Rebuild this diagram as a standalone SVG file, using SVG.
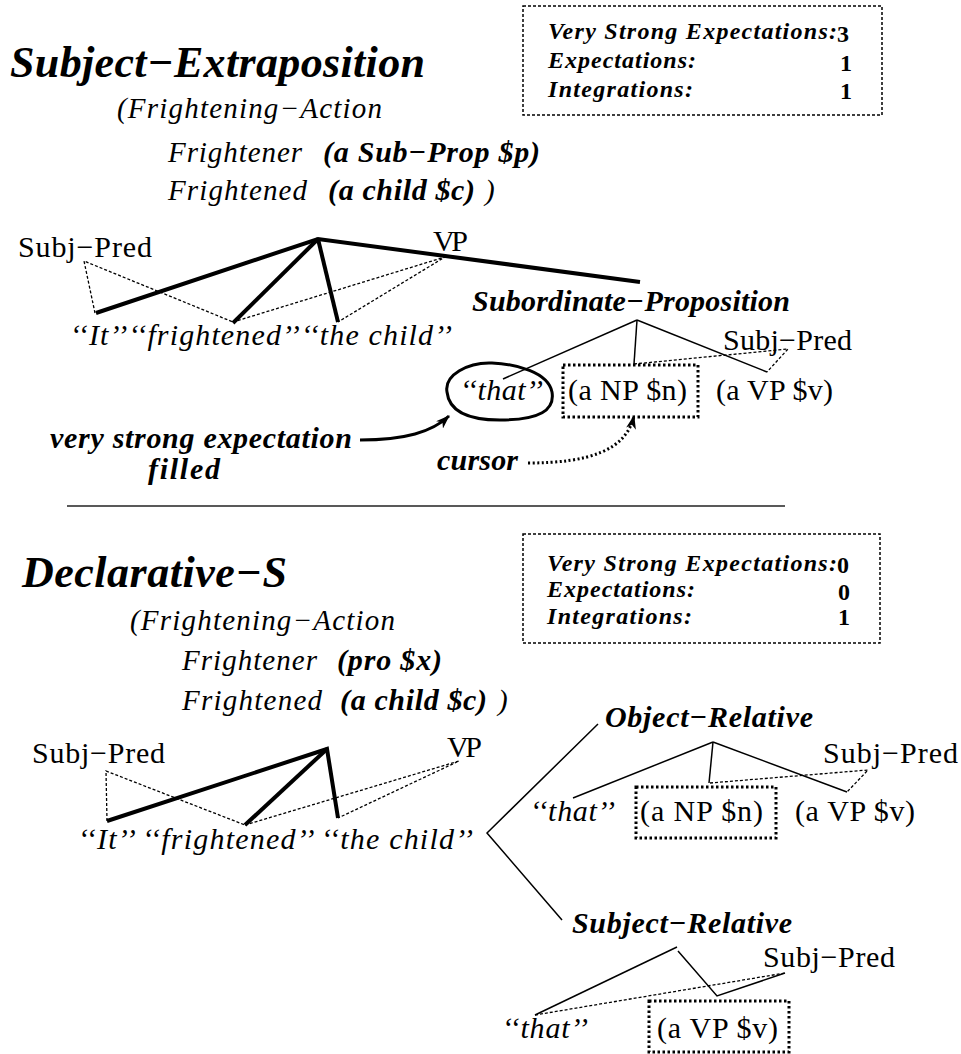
<svg xmlns="http://www.w3.org/2000/svg" width="961" height="1054" viewBox="0 0 961 1054">
<style>
text{font-family:'Liberation Serif','Times New Roman',serif;fill:#000}
.bi{font-style:italic;font-weight:bold}
.it{font-style:italic}
.rm{font-style:normal}
.b{font-weight:bold;font-style:normal}
.t1{font-size:44px}
.f{font-size:29px}
.n{font-size:30px}
.s{font-size:24px}
line,polyline,path,rect{fill:none;stroke:#000}
.thick{stroke-width:4}
.thin{stroke-width:1.5}
.dot{stroke-width:1.3;stroke-dasharray:3 2}
.dbox{stroke-width:3;stroke-dasharray:2.5 2.5}
.frame{stroke-width:1.5;stroke-dasharray:3 2}
</style>
<defs>
<marker id="ah" markerUnits="userSpaceOnUse" markerWidth="14" markerHeight="10" refX="13" refY="5" orient="auto">
<path d="M0,0 L14,5 L0,10 L4,5 Z" style="fill:#000;stroke:none"/>
</marker>
</defs>

<g id="top-title"><text class="bi t1" x="10" y="77" textLength="415">Subject−Extraposition</text></g>
<g id="top-frame">
<text class="it f" x="117" y="118" textLength="265">(Frightening−Action</text>
<text class="it f" x="168" y="162" textLength="134">Frightener</text>
<text class="bi n" x="323" y="162" textLength="217">(a Sub−Prop $p)</text>
<text class="it f" x="168" y="200" textLength="139">Frightened</text>
<text class="bi n" x="328" y="200" textLength="147">(a child $c)</text>
<text class="it f" x="485" y="200">)</text>
</g>
<g id="top-counts">
<rect class="frame" x="523" y="6" width="359" height="109"/>
<text class="bi s" x="548" y="39" textLength="289">Very Strong Expectations:</text>
<text class="b s" x="837" y="42">3</text>
<text class="bi s" x="548" y="68" textLength="148">Expectations:</text>
<text class="b s" x="840" y="71">1</text>
<text class="bi s" x="548" y="97" textLength="145">Integrations:</text>
<text class="b s" x="840" y="99">1</text>
</g>

<g id="top-tree-labels">
<text class="rm n" x="18" y="257" textLength="134">Subj−Pred</text>
<text class="rm n" x="433" y="251" textLength="35">VP</text>
<text class="it n" x="70" y="345" textLength="382">‘‘It’’‘‘frightened’’‘‘the child’’</text>
</g>
<g id="subordinate-proposition">
<text class="bi n" x="472" y="311" textLength="318">Subordinate−Proposition</text>
<text class="rm n" x="723" y="350" textLength="129">Subj−Pred</text>
<text class="it n" x="460" y="400" textLength="83">‘‘that’’</text>
<path d="M447,392 C444,375 468,362 492,363 C516,364 548,372 552,392 C555,410 540,420 500,420 C468,420 449,411 447,392 Z" style="stroke-width:3"/>
<rect class="dbox" x="563" y="365" width="135" height="52"/>
<text class="rm n" x="568" y="400" textLength="119">(a NP $n)</text>
<text class="rm n" x="716" y="400" textLength="117">(a VP $v)</text>
</g>
<g id="annotations-top">
<text class="bi n" x="50" y="448" textLength="302">very strong expectation</text>
<text class="bi n" x="148" y="479" textLength="72">filled</text>
<text class="bi n" x="437" y="470" textLength="81">cursor</text>
</g>

<g id="connectors">
<polyline class="thick" points="96,313 318,239 640,282"/>
<line class="thick" x1="318" y1="239" x2="233" y2="323"/>
<line class="thick" x1="318" y1="239" x2="338" y2="322"/>
<polyline class="dot" points="95,313 84,261 233,322"/>
<polyline class="dot" points="233,322 445,257 338,322"/>
<line class="thin" x1="637" y1="320" x2="503" y2="379"/>
<line class="thin" x1="637" y1="320" x2="634" y2="364"/>
<line class="thin" x1="637" y1="320" x2="767" y2="372"/>
<polyline class="dot" points="634,364 788,349 767,372"/>
<path d="M360,440 C405,440 432,432 449,416" style="stroke-width:3" marker-end="url(#ah)"/>
<path d="M528,463 C590,463 626,450 634,416" style="stroke-width:3;stroke-dasharray:2 2.5" marker-end="url(#ah)"/>
<line x1="67" y1="506" x2="785" y2="506" style="stroke-width:1.5;stroke:#222"/>
<polyline class="thick" points="107,821 327,749 338,818"/>
<line class="thick" x1="327" y1="749" x2="245" y2="825"/>
<polyline class="dot" points="107,821 106,771 245,825"/>
<polyline class="dot" points="245,825 459,761 338,818"/>
<polyline class="thin" points="598,724 487,833 562,920"/>
<line class="thin" x1="713" y1="742" x2="573" y2="798"/>
<line class="thin" x1="713" y1="742" x2="709" y2="783"/>
<line class="thin" x1="713" y1="742" x2="847" y2="792"/>
<polyline class="dot" points="710,783 868,770 847,792"/>
<line class="thin" x1="535" y1="1015" x2="677" y2="947"/>
<polyline class="thin" points="678,951 717,996 785,973"/>
<line class="dot" x1="535" y1="1015" x2="785" y2="973"/>
</g>

<g id="bottom-title"><text class="bi t1" x="22" y="587" textLength="265">Declarative−S</text></g>
<g id="bottom-frame">
<text class="it f" x="130" y="630" textLength="265">(Frightening−Action</text>
<text class="it f" x="182" y="670" textLength="135">Frightener</text>
<text class="bi n" x="337" y="670" textLength="105">(pro $x)</text>
<text class="it f" x="182" y="710" textLength="140">Frightened</text>
<text class="bi n" x="340" y="710" textLength="147">(a child $c)</text>
<text class="it f" x="498" y="710">)</text>
</g>
<g id="bottom-counts">
<rect class="frame" x="523" y="534" width="357" height="109"/>
<text class="bi s" x="547" y="571" textLength="290">Very Strong Expectations:</text>
<text class="b s" x="837" y="573">0</text>
<text class="bi s" x="547" y="597" textLength="148">Expectations:</text>
<text class="b s" x="838" y="600">0</text>
<text class="bi s" x="547" y="624" textLength="145">Integrations:</text>
<text class="b s" x="838" y="625">1</text>
</g>
<g id="bottom-tree-labels">
<text class="rm n" x="32" y="763" textLength="133">Subj−Pred</text>
<text class="rm n" x="447" y="757" textLength="35">VP</text>
<text class="it n" x="78" y="849" textLength="395">‘‘It’’ ‘‘frightened’’ ‘‘the child’’</text>
</g>
<g id="object-relative">
<text class="bi n" x="605" y="727" textLength="208">Object−Relative</text>
<text class="rm n" x="823" y="763" textLength="135">Subj−Pred</text>
<text class="it n" x="530" y="821" textLength="85">‘‘that’’</text>
<rect class="dbox" x="636" y="787" width="140" height="51"/>
<text class="rm n" x="640" y="821" textLength="123">(a NP $n)</text>
<text class="rm n" x="795" y="821" textLength="120">(a VP $v)</text>
</g>
<g id="subject-relative">
<text class="bi n" x="572" y="933" textLength="220">Subject−Relative</text>
<text class="rm n" x="763" y="967" textLength="132">Subj−Pred</text>
<text class="it n" x="502" y="1038" textLength="86">‘‘that’’</text>
<rect class="dbox" x="649" y="1001" width="140" height="51"/>
<text class="rm n" x="657" y="1038" textLength="121">(a VP $v)</text>
</g>
</svg>
